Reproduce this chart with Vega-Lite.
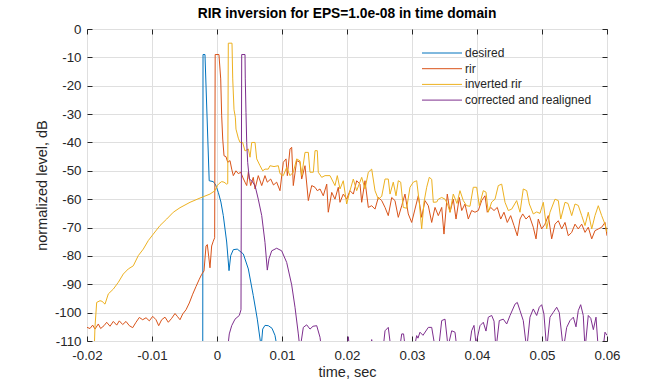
{
  "$schema": "https://vega.github.io/schema/vega-lite/v6.json",
  "width": 520,
  "height": 312,
  "autosize": {"type": "none"},
  "padding": {"left": 87, "top": 29, "right": 65, "bottom": 43},
  "background": "#ffffff",
  "title": {"text": "RIR inversion for EPS=1.0e-08 in time domain", "font": "Liberation Sans", "fontSize": 13.8, "fontWeight": "bold", "color": "#000000", "offset": 1},
  "datasets": {
    "desired": [
      {"s":"desired","t":-0.0022,"v":-130},{"s":"desired","t":-0.00215,"v":-9},{"s":"desired","t":-0.00185,"v":-9},{"s":"desired","t":-0.0012,"v":-53.5},{"s":"desired","t":-0.00057,"v":-53.8},{"s":"desired","t":-0.0002,"v":-55},{"s":"desired","t":0.0002,"v":-57.6},{"s":"desired","t":0.0006,"v":-61},{"s":"desired","t":0.00097,"v":-65.8},{"s":"desired","t":0.00149,"v":-75.1},{"s":"desired","t":0.00185,"v":-85.2},{"s":"desired","t":0.00211,"v":-79.9},{"s":"desired","t":0.00251,"v":-77.8},{"s":"desired","t":0.00312,"v":-77.6},{"s":"desired","t":0.00405,"v":-79.3},{"s":"desired","t":0.00482,"v":-84.6},{"s":"desired","t":0.00558,"v":-94},{"s":"desired","t":0.0062,"v":-102.3},{"s":"desired","t":0.00662,"v":-109.3},{"s":"desired","t":0.0068,"v":-112},{"s":"desired","t":0.00703,"v":-105.8},{"s":"desired","t":0.00738,"v":-104.5},{"s":"desired","t":0.00789,"v":-104.6},{"s":"desired","t":0.00846,"v":-105.5},{"s":"desired","t":0.00892,"v":-108},{"s":"desired","t":0.00923,"v":-112},{"s":"desired","t":0.0095,"v":-125}
    ],
    "rir": [
      {"s":"rir","t":-0.02,"v":-105.2},{"s":"rir","t":-0.01954,"v":-105.6},{"s":"rir","t":-0.01913,"v":-104.4},{"s":"rir","t":-0.01877,"v":-105.8},{"s":"rir","t":-0.01826,"v":-104},{"s":"rir","t":-0.0179,"v":-105.6},{"s":"rir","t":-0.01738,"v":-104.6},{"s":"rir","t":-0.01697,"v":-103.4},{"s":"rir","t":-0.01646,"v":-104.8},{"s":"rir","t":-0.01595,"v":-103.1},{"s":"rir","t":-0.01543,"v":-104.4},{"s":"rir","t":-0.01503,"v":-102.9},{"s":"rir","t":-0.01451,"v":-104.2},{"s":"rir","t":-0.014,"v":-103.1},{"s":"rir","t":-0.01349,"v":-104.6},{"s":"rir","t":-0.01297,"v":-105.3},{"s":"rir","t":-0.01246,"v":-103.4},{"s":"rir","t":-0.01195,"v":-101.7},{"s":"rir","t":-0.01143,"v":-102.5},{"s":"rir","t":-0.01092,"v":-101.8},{"s":"rir","t":-0.01041,"v":-102.9},{"s":"rir","t":-0.00989,"v":-101.3},{"s":"rir","t":-0.00938,"v":-102.5},{"s":"rir","t":-0.00897,"v":-104.6},{"s":"rir","t":-0.00851,"v":-102.5},{"s":"rir","t":-0.008,"v":-101.6},{"s":"rir","t":-0.00749,"v":-103.4},{"s":"rir","t":-0.00697,"v":-102},{"s":"rir","t":-0.00646,"v":-100.3},{"s":"rir","t":-0.00611,"v":-101.3},{"s":"rir","t":-0.00569,"v":-102.5},{"s":"rir","t":-0.00528,"v":-100.5},{"s":"rir","t":-0.00477,"v":-99},{"s":"rir","t":-0.00426,"v":-96.6},{"s":"rir","t":-0.00374,"v":-93.5},{"s":"rir","t":-0.00323,"v":-90.8},{"s":"rir","t":-0.00272,"v":-88.2},{"s":"rir","t":-0.00236,"v":-86.5},{"s":"rir","t":-0.002,"v":-85.3},{"s":"rir","t":-0.00169,"v":-76.5},{"s":"rir","t":-0.00149,"v":-76},{"s":"rir","t":-0.00128,"v":-80.1},{"s":"rir","t":-0.00108,"v":-84.2},{"s":"rir","t":-0.00082,"v":-76.5},{"s":"rir","t":-0.00057,"v":-74.8},{"s":"rir","t":-0.00036,"v":-73.6},{"s":"rir","t":-0.00028,"v":-9},{"s":"rir","t":0.0003,"v":-9},{"s":"rir","t":0.00057,"v":-17.6},{"s":"rir","t":0.00072,"v":-30.6},{"s":"rir","t":0.00088,"v":-38.8},{"s":"rir","t":0.00108,"v":-44.7},{"s":"rir","t":0.00138,"v":-45},{"s":"rir","t":0.00165,"v":-47},{"s":"rir","t":0.002,"v":-46.4},{"s":"rir","t":0.00226,"v":-49.4},{"s":"rir","t":0.00251,"v":-51.7},{"s":"rir","t":0.00292,"v":-50},{"s":"rir","t":0.00328,"v":-51},{"s":"rir","t":0.00365,"v":-50.5},{"s":"rir","t":0.004,"v":-52.5},{"s":"rir","t":0.00431,"v":-54},{"s":"rir","t":0.00457,"v":-55.2},{"s":"rir","t":0.00482,"v":-50.5},{"s":"rir","t":0.00518,"v":-55.2},{"s":"rir","t":0.00558,"v":-52.3},{"s":"rir","t":0.00585,"v":-56.4},{"s":"rir","t":0.00635,"v":-51.7},{"s":"rir","t":0.00688,"v":-55.2},{"s":"rir","t":0.00738,"v":-51.7},{"s":"rir","t":0.00774,"v":-54},{"s":"rir","t":0.00826,"v":-52.9},{"s":"rir","t":0.00869,"v":-55},{"s":"rir","t":0.00918,"v":-54},{"s":"rir","t":0.00969,"v":-57},{"s":"rir","t":0.0102,"v":-47},{"s":"rir","t":0.01062,"v":-45.8},{"s":"rir","t":0.01082,"v":-51.7},{"s":"rir","t":0.01123,"v":-42.3},{"s":"rir","t":0.01149,"v":-41.7},{"s":"rir","t":0.01174,"v":-55.2},{"s":"rir","t":0.01226,"v":-46.4},{"s":"rir","t":0.01277,"v":-47},{"s":"rir","t":0.01303,"v":-52.9},{"s":"rir","t":0.01354,"v":-48.2},{"s":"rir","t":0.01405,"v":-60.5},{"s":"rir","t":0.01457,"v":-55.2},{"s":"rir","t":0.01508,"v":-55.8},{"s":"rir","t":0.01543,"v":-57},{"s":"rir","t":0.01585,"v":-56.4},{"s":"rir","t":0.01635,"v":-58.8},{"s":"rir","t":0.01688,"v":-54.7},{"s":"rir","t":0.01712,"v":-64.6},{"s":"rir","t":0.01765,"v":-57.6},{"s":"rir","t":0.01815,"v":-60},{"s":"rir","t":0.01866,"v":-55.8},{"s":"rir","t":0.01892,"v":-61.1},{"s":"rir","t":0.01943,"v":-58.2},{"s":"rir","t":0.01995,"v":-60},{"s":"rir","t":0.02046,"v":-57},{"s":"rir","t":0.02097,"v":-58.2},{"s":"rir","t":0.02149,"v":-53.5},{"s":"rir","t":0.022,"v":-54.7},{"s":"rir","t":0.02226,"v":-61.1},{"s":"rir","t":0.02277,"v":-53.5},{"s":"rir","t":0.02328,"v":-62.9},{"s":"rir","t":0.0238,"v":-62.3},{"s":"rir","t":0.02431,"v":-63.5},{"s":"rir","t":0.02482,"v":-59.4},{"s":"rir","t":0.02534,"v":-60.5},{"s":"rir","t":0.02585,"v":-62.9},{"s":"rir","t":0.02635,"v":-65.8},{"s":"rir","t":0.02688,"v":-59.4},{"s":"rir","t":0.02738,"v":-60.5},{"s":"rir","t":0.02789,"v":-66.4},{"s":"rir","t":0.02842,"v":-62.3},{"s":"rir","t":0.02892,"v":-58.2},{"s":"rir","t":0.02943,"v":-65.2},{"s":"rir","t":0.02995,"v":-68.2},{"s":"rir","t":0.03046,"v":-63.5},{"s":"rir","t":0.03097,"v":-58.8},{"s":"rir","t":0.03149,"v":-66.4},{"s":"rir","t":0.032,"v":-60.5},{"s":"rir","t":0.03251,"v":-62.3},{"s":"rir","t":0.03303,"v":-68.2},{"s":"rir","t":0.03354,"v":-62.9},{"s":"rir","t":0.03405,"v":-65.8},{"s":"rir","t":0.03457,"v":-62.9},{"s":"rir","t":0.03492,"v":-72.3},{"s":"rir","t":0.03543,"v":-58.2},{"s":"rir","t":0.03585,"v":-64.6},{"s":"rir","t":0.03635,"v":-60},{"s":"rir","t":0.03677,"v":-67},{"s":"rir","t":0.03728,"v":-59.4},{"s":"rir","t":0.03765,"v":-64},{"s":"rir","t":0.03815,"v":-61.7},{"s":"rir","t":0.03866,"v":-67},{"s":"rir","t":0.03918,"v":-64},{"s":"rir","t":0.03969,"v":-64.6},{"s":"rir","t":0.0402,"v":-64},{"s":"rir","t":0.04072,"v":-60.5},{"s":"rir","t":0.04123,"v":-58.8},{"s":"rir","t":0.04158,"v":-64.6},{"s":"rir","t":0.04211,"v":-62.9},{"s":"rir","t":0.04262,"v":-64},{"s":"rir","t":0.04312,"v":-62.9},{"s":"rir","t":0.04365,"v":-67},{"s":"rir","t":0.04415,"v":-64.6},{"s":"rir","t":0.04466,"v":-68.2},{"s":"rir","t":0.04518,"v":-65.8},{"s":"rir","t":0.04569,"v":-69.3},{"s":"rir","t":0.0462,"v":-72.9},{"s":"rir","t":0.04662,"v":-67},{"s":"rir","t":0.04703,"v":-65.2},{"s":"rir","t":0.04754,"v":-67},{"s":"rir","t":0.04805,"v":-65.8},{"s":"rir","t":0.04866,"v":-69.9},{"s":"rir","t":0.04908,"v":-74},{"s":"rir","t":0.04943,"v":-67},{"s":"rir","t":0.04995,"v":-70.5},{"s":"rir","t":0.05046,"v":-68.8},{"s":"rir","t":0.05097,"v":-65.8},{"s":"rir","t":0.05149,"v":-74},{"s":"rir","t":0.052,"v":-68.8},{"s":"rir","t":0.05251,"v":-67.6},{"s":"rir","t":0.05303,"v":-70.5},{"s":"rir","t":0.05354,"v":-68.2},{"s":"rir","t":0.05405,"v":-72.9},{"s":"rir","t":0.05457,"v":-71.7},{"s":"rir","t":0.05508,"v":-68.8},{"s":"rir","t":0.05558,"v":-70.5},{"s":"rir","t":0.05611,"v":-68.8},{"s":"rir","t":0.05662,"v":-71.7},{"s":"rir","t":0.05712,"v":-69.9},{"s":"rir","t":0.05765,"v":-74},{"s":"rir","t":0.05815,"v":-71.1},{"s":"rir","t":0.05866,"v":-70.5},{"s":"rir","t":0.05918,"v":-69.9},{"s":"rir","t":0.05969,"v":-68.2},{"s":"rir","t":0.06,"v":-72.9}
    ],
    "inv": [
      {"s":"inverted rir","t":-0.01892,"v":-115},{"s":"inverted rir","t":-0.01877,"v":-105},{"s":"inverted rir","t":-0.01851,"v":-96.4},{"s":"inverted rir","t":-0.018,"v":-95.8},{"s":"inverted rir","t":-0.01769,"v":-96},{"s":"inverted rir","t":-0.01723,"v":-97},{"s":"inverted rir","t":-0.01672,"v":-93.4},{"s":"inverted rir","t":-0.01595,"v":-91.7},{"s":"inverted rir","t":-0.01518,"v":-89.3},{"s":"inverted rir","t":-0.01442,"v":-86.4},{"s":"inverted rir","t":-0.01365,"v":-84.6},{"s":"inverted rir","t":-0.01288,"v":-83.5},{"s":"inverted rir","t":-0.01211,"v":-79.9},{"s":"inverted rir","t":-0.01134,"v":-77.6},{"s":"inverted rir","t":-0.01057,"v":-74.6},{"s":"inverted rir","t":-0.0098,"v":-72.3},{"s":"inverted rir","t":-0.00877,"v":-69.3},{"s":"inverted rir","t":-0.00774,"v":-67},{"s":"inverted rir","t":-0.00672,"v":-64.6},{"s":"inverted rir","t":-0.00569,"v":-63},{"s":"inverted rir","t":-0.00415,"v":-61.1},{"s":"inverted rir","t":-0.00262,"v":-59.6},{"s":"inverted rir","t":-0.00108,"v":-58.2},{"s":"inverted rir","t":-0.00031,"v":-57},{"s":"inverted rir","t":0.00005,"v":-55.2},{"s":"inverted rir","t":0.00031,"v":-54.5},{"s":"inverted rir","t":0.00072,"v":-53.8},{"s":"inverted rir","t":0.00108,"v":-54},{"s":"inverted rir","t":0.00149,"v":-54.7},{"s":"inverted rir","t":0.00165,"v":-54.5},{"s":"inverted rir","t":0.00174,"v":-5},{"s":"inverted rir","t":0.00231,"v":-5},{"s":"inverted rir","t":0.00242,"v":-17.6},{"s":"inverted rir","t":0.00262,"v":-28.5},{"s":"inverted rir","t":0.00282,"v":-31.1},{"s":"inverted rir","t":0.00292,"v":-35.3},{"s":"inverted rir","t":0.00328,"v":-38.5},{"s":"inverted rir","t":0.00354,"v":-40},{"s":"inverted rir","t":0.00395,"v":-40},{"s":"inverted rir","t":0.00431,"v":-43},{"s":"inverted rir","t":0.00482,"v":-42.3},{"s":"inverted rir","t":0.00508,"v":-45.2},{"s":"inverted rir","t":0.00534,"v":-40},{"s":"inverted rir","t":0.00585,"v":-40},{"s":"inverted rir","t":0.00611,"v":-45.8},{"s":"inverted rir","t":0.00662,"v":-48.2},{"s":"inverted rir","t":0.00703,"v":-50},{"s":"inverted rir","t":0.00738,"v":-49.4},{"s":"inverted rir","t":0.00789,"v":-49.4},{"s":"inverted rir","t":0.00815,"v":-48.2},{"s":"inverted rir","t":0.00877,"v":-48.5},{"s":"inverted rir","t":0.00943,"v":-48.2},{"s":"inverted rir","t":0.00969,"v":-51},{"s":"inverted rir","t":0.0102,"v":-51.7},{"s":"inverted rir","t":0.01072,"v":-48.8},{"s":"inverted rir","t":0.01123,"v":-51.7},{"s":"inverted rir","t":0.01174,"v":-50.5},{"s":"inverted rir","t":0.01226,"v":-45.8},{"s":"inverted rir","t":0.01277,"v":-46.5},{"s":"inverted rir","t":0.01303,"v":-51.7},{"s":"inverted rir","t":0.01354,"v":-43.5},{"s":"inverted rir","t":0.01405,"v":-43.5},{"s":"inverted rir","t":0.01431,"v":-50.5},{"s":"inverted rir","t":0.01482,"v":-50.5},{"s":"inverted rir","t":0.01508,"v":-42.9},{"s":"inverted rir","t":0.01543,"v":-42.9},{"s":"inverted rir","t":0.01558,"v":-50.5},{"s":"inverted rir","t":0.01611,"v":-52.3},{"s":"inverted rir","t":0.01662,"v":-51.7},{"s":"inverted rir","t":0.01738,"v":-51.7},{"s":"inverted rir","t":0.01815,"v":-55.2},{"s":"inverted rir","t":0.01851,"v":-51.7},{"s":"inverted rir","t":0.01892,"v":-56.4},{"s":"inverted rir","t":0.01943,"v":-53.5},{"s":"inverted rir","t":0.01995,"v":-61.7},{"s":"inverted rir","t":0.02046,"v":-57},{"s":"inverted rir","t":0.02097,"v":-52.9},{"s":"inverted rir","t":0.02149,"v":-57},{"s":"inverted rir","t":0.02226,"v":-52.3},{"s":"inverted rir","t":0.02277,"v":-56.4},{"s":"inverted rir","t":0.02328,"v":-50.5},{"s":"inverted rir","t":0.0238,"v":-49.4},{"s":"inverted rir","t":0.02431,"v":-57},{"s":"inverted rir","t":0.02482,"v":-60},{"s":"inverted rir","t":0.02534,"v":-59},{"s":"inverted rir","t":0.02585,"v":-52.9},{"s":"inverted rir","t":0.02635,"v":-52.9},{"s":"inverted rir","t":0.02662,"v":-58.2},{"s":"inverted rir","t":0.02712,"v":-54},{"s":"inverted rir","t":0.02754,"v":-58.8},{"s":"inverted rir","t":0.02789,"v":-53.5},{"s":"inverted rir","t":0.02826,"v":-54},{"s":"inverted rir","t":0.02866,"v":-62.9},{"s":"inverted rir","t":0.02918,"v":-63.2},{"s":"inverted rir","t":0.02969,"v":-55.8},{"s":"inverted rir","t":0.0302,"v":-54},{"s":"inverted rir","t":0.03072,"v":-53.5},{"s":"inverted rir","t":0.03112,"v":-61.1},{"s":"inverted rir","t":0.03149,"v":-70.5},{"s":"inverted rir","t":0.03185,"v":-61},{"s":"inverted rir","t":0.03226,"v":-55.8},{"s":"inverted rir","t":0.03266,"v":-52.3},{"s":"inverted rir","t":0.03303,"v":-53},{"s":"inverted rir","t":0.03328,"v":-61.1},{"s":"inverted rir","t":0.0338,"v":-61},{"s":"inverted rir","t":0.03405,"v":-60},{"s":"inverted rir","t":0.03457,"v":-59.4},{"s":"inverted rir","t":0.03508,"v":-60},{"s":"inverted rir","t":0.03543,"v":-61.5},{"s":"inverted rir","t":0.03585,"v":-64.6},{"s":"inverted rir","t":0.03635,"v":-58.2},{"s":"inverted rir","t":0.03692,"v":-61.5},{"s":"inverted rir","t":0.03738,"v":-57},{"s":"inverted rir","t":0.03789,"v":-60.5},{"s":"inverted rir","t":0.0384,"v":-62.3},{"s":"inverted rir","t":0.03892,"v":-62.5},{"s":"inverted rir","t":0.03943,"v":-55.8},{"s":"inverted rir","t":0.03995,"v":-55.8},{"s":"inverted rir","t":0.04035,"v":-62.3},{"s":"inverted rir","t":0.04097,"v":-57},{"s":"inverted rir","t":0.04138,"v":-57.5},{"s":"inverted rir","t":0.04174,"v":-64.6},{"s":"inverted rir","t":0.04226,"v":-61},{"s":"inverted rir","t":0.04277,"v":-60},{"s":"inverted rir","t":0.04328,"v":-55.2},{"s":"inverted rir","t":0.0438,"v":-54.7},{"s":"inverted rir","t":0.04431,"v":-61.1},{"s":"inverted rir","t":0.04482,"v":-64},{"s":"inverted rir","t":0.04534,"v":-63.5},{"s":"inverted rir","t":0.0461,"v":-60.5},{"s":"inverted rir","t":0.04662,"v":-64.6},{"s":"inverted rir","t":0.04712,"v":-56.4},{"s":"inverted rir","t":0.04765,"v":-57},{"s":"inverted rir","t":0.04805,"v":-61.7},{"s":"inverted rir","t":0.04866,"v":-65.2},{"s":"inverted rir","t":0.04918,"v":-64.5},{"s":"inverted rir","t":0.04969,"v":-65},{"s":"inverted rir","t":0.0502,"v":-61.1},{"s":"inverted rir","t":0.05072,"v":-70.5},{"s":"inverted rir","t":0.05123,"v":-64.6},{"s":"inverted rir","t":0.052,"v":-60},{"s":"inverted rir","t":0.05251,"v":-60.5},{"s":"inverted rir","t":0.05288,"v":-67},{"s":"inverted rir","t":0.05354,"v":-61.1},{"s":"inverted rir","t":0.054,"v":-61.5},{"s":"inverted rir","t":0.05457,"v":-65.8},{"s":"inverted rir","t":0.05508,"v":-61.7},{"s":"inverted rir","t":0.05558,"v":-62.2},{"s":"inverted rir","t":0.05611,"v":-65.8},{"s":"inverted rir","t":0.05662,"v":-69.3},{"s":"inverted rir","t":0.05712,"v":-64.6},{"s":"inverted rir","t":0.05765,"v":-70.5},{"s":"inverted rir","t":0.05815,"v":-65.8},{"s":"inverted rir","t":0.05866,"v":-62.3},{"s":"inverted rir","t":0.05918,"v":-65.8},{"s":"inverted rir","t":0.05969,"v":-68.8},{"s":"inverted rir","t":0.06,"v":-71.7}
    ],
    "corr": [
      {"s":"corrected and realigned","t":0.00162,"v":-113},{"s":"corrected and realigned","t":0.00189,"v":-107.5},{"s":"corrected and realigned","t":0.00226,"v":-104.6},{"s":"corrected and realigned","t":0.00277,"v":-102.3},{"s":"corrected and realigned","t":0.00343,"v":-101},{"s":"corrected and realigned","t":0.00369,"v":-99},{"s":"corrected and realigned","t":0.0038,"v":-9},{"s":"corrected and realigned","t":0.00431,"v":-9},{"s":"corrected and realigned","t":0.00435,"v":-17.6},{"s":"corrected and realigned","t":0.00446,"v":-29.4},{"s":"corrected and realigned","t":0.00457,"v":-40},{"s":"corrected and realigned","t":0.00472,"v":-47},{"s":"corrected and realigned","t":0.00497,"v":-52.9},{"s":"corrected and realigned","t":0.00534,"v":-53.5},{"s":"corrected and realigned","t":0.00585,"v":-55.2},{"s":"corrected and realigned","t":0.00635,"v":-60},{"s":"corrected and realigned","t":0.00688,"v":-65.8},{"s":"corrected and realigned","t":0.00738,"v":-75.2},{"s":"corrected and realigned","t":0.00774,"v":-85},{"s":"corrected and realigned","t":0.008,"v":-81},{"s":"corrected and realigned","t":0.00842,"v":-78.2},{"s":"corrected and realigned","t":0.00918,"v":-77.3},{"s":"corrected and realigned","t":0.00995,"v":-78.2},{"s":"corrected and realigned","t":0.01072,"v":-82.3},{"s":"corrected and realigned","t":0.01149,"v":-90.2},{"s":"corrected and realigned","t":0.012,"v":-98.1},{"s":"corrected and realigned","t":0.01251,"v":-107.5},{"s":"corrected and realigned","t":0.01277,"v":-113},{"s":"corrected and realigned","t":0.01328,"v":-105.2},{"s":"corrected and realigned","t":0.0138,"v":-104.3},{"s":"corrected and realigned","t":0.01431,"v":-105.8},{"s":"corrected and realigned","t":0.01477,"v":-104.8},{"s":"corrected and realigned","t":0.01534,"v":-104.6},{"s":"corrected and realigned","t":0.01585,"v":-108.7},{"s":"corrected and realigned","t":0.01608,"v":-113},{"s":"corrected and realigned","t":0.02,"v":-113},{"s":"corrected and realigned","t":0.0202,"v":-108.5},{"s":"corrected and realigned","t":0.0204,"v":-113},{"s":"corrected and realigned","t":0.0236,"v":-113},{"s":"corrected and realigned","t":0.0238,"v":-109.5},{"s":"corrected and realigned","t":0.024,"v":-113},{"s":"corrected and realigned","t":0.02554,"v":-113},{"s":"corrected and realigned","t":0.02585,"v":-106.4},{"s":"corrected and realigned","t":0.02635,"v":-105.2},{"s":"corrected and realigned","t":0.02677,"v":-113},{"s":"corrected and realigned","t":0.02808,"v":-113},{"s":"corrected and realigned","t":0.02842,"v":-107.5},{"s":"corrected and realigned","t":0.0287,"v":-107.5},{"s":"corrected and realigned","t":0.029,"v":-113},{"s":"corrected and realigned","t":0.0303,"v":-113},{"s":"corrected and realigned","t":0.03072,"v":-108.1},{"s":"corrected and realigned","t":0.03092,"v":-109},{"s":"corrected and realigned","t":0.03123,"v":-106.9},{"s":"corrected and realigned","t":0.03169,"v":-108},{"s":"corrected and realigned","t":0.03251,"v":-105.2},{"s":"corrected and realigned","t":0.03303,"v":-105.2},{"s":"corrected and realigned","t":0.0336,"v":-113},{"s":"corrected and realigned","t":0.03408,"v":-113},{"s":"corrected and realigned","t":0.03457,"v":-102.8},{"s":"corrected and realigned","t":0.03508,"v":-102.3},{"s":"corrected and realigned","t":0.03554,"v":-112},{"s":"corrected and realigned","t":0.03611,"v":-106.4},{"s":"corrected and realigned","t":0.03662,"v":-106.9},{"s":"corrected and realigned","t":0.03692,"v":-113},{"s":"corrected and realigned","t":0.03877,"v":-113},{"s":"corrected and realigned","t":0.03918,"v":-106.4},{"s":"corrected and realigned","t":0.03954,"v":-104.5},{"s":"corrected and realigned","t":0.03985,"v":-111},{"s":"corrected and realigned","t":0.04046,"v":-104.6},{"s":"corrected and realigned","t":0.04097,"v":-103.4},{"s":"corrected and realigned","t":0.04138,"v":-106.5},{"s":"corrected and realigned","t":0.04174,"v":-101.6},{"s":"corrected and realigned","t":0.04226,"v":-101},{"s":"corrected and realigned","t":0.04262,"v":-103},{"s":"corrected and realigned","t":0.04292,"v":-113},{"s":"corrected and realigned","t":0.04343,"v":-102.8},{"s":"corrected and realigned","t":0.04405,"v":-102.3},{"s":"corrected and realigned","t":0.04457,"v":-104},{"s":"corrected and realigned","t":0.04508,"v":-101},{"s":"corrected and realigned","t":0.04585,"v":-97},{"s":"corrected and realigned","t":0.0462,"v":-96.4},{"s":"corrected and realigned","t":0.04662,"v":-99.3},{"s":"corrected and realigned","t":0.04712,"v":-102.8},{"s":"corrected and realigned","t":0.04765,"v":-113},{"s":"corrected and realigned","t":0.04815,"v":-101.6},{"s":"corrected and realigned","t":0.04866,"v":-98.7},{"s":"corrected and realigned","t":0.04918,"v":-101},{"s":"corrected and realigned","t":0.04958,"v":-98.1},{"s":"corrected and realigned","t":0.04995,"v":-97.2},{"s":"corrected and realigned","t":0.0503,"v":-100.5},{"s":"corrected and realigned","t":0.05072,"v":-113},{"s":"corrected and realigned","t":0.05123,"v":-101.6},{"s":"corrected and realigned","t":0.05174,"v":-99.9},{"s":"corrected and realigned","t":0.05226,"v":-98.1},{"s":"corrected and realigned","t":0.05266,"v":-100},{"s":"corrected and realigned","t":0.05328,"v":-113},{"s":"corrected and realigned","t":0.0538,"v":-105.2},{"s":"corrected and realigned","t":0.05431,"v":-102.8},{"s":"corrected and realigned","t":0.05482,"v":-101.6},{"s":"corrected and realigned","t":0.05523,"v":-105},{"s":"corrected and realigned","t":0.05558,"v":-99.3},{"s":"corrected and realigned","t":0.05595,"v":-97.2},{"s":"corrected and realigned","t":0.05635,"v":-101},{"s":"corrected and realigned","t":0.05662,"v":-113},{"s":"corrected and realigned","t":0.05712,"v":-101},{"s":"corrected and realigned","t":0.0575,"v":-102},{"s":"corrected and realigned","t":0.0579,"v":-106},{"s":"corrected and realigned","t":0.05831,"v":-101.6},{"s":"corrected and realigned","t":0.05866,"v":-113},{"s":"corrected and realigned","t":0.05938,"v":-113},{"s":"corrected and realigned","t":0.05969,"v":-106.9},{"s":"corrected and realigned","t":0.06,"v":-108}
    ]
  },
  "layer": [
    {
      "data": {"name": "desired"},
      "mark": {"type": "line", "clip": true, "strokeWidth": 1},
      "encoding": {
        "x": {"field": "t", "type": "quantitative", "scale": {"domain": [-0.02, 0.06], "nice": false, "zero": false},
          "axis": {"values": [-0.02, -0.01, 0, 0.01, 0.02, 0.03, 0.04, 0.05, 0.06], "format": ".2~f", "ticks": false, "domain": false, "grid": true, "gridColor": "#dfdfdf", "labelPadding": 7, "labelFont": "Liberation Sans", "labelFontSize": 13.3, "labelColor": "#262626", "labelFlush": false, "labelOverlap": false, "title": "time, sec", "titleFont": "Liberation Sans", "titleFontSize": 14.5, "titleFontWeight": "normal", "titleColor": "#262626", "titlePadding": 4}},
        "y": {"field": "v", "type": "quantitative", "scale": {"domain": [-110, 0], "nice": false, "zero": false},
          "axis": {"values": [-110, -100, -90, -80, -70, -60, -50, -40, -30, -20, -10, 0], "format": "d", "ticks": false, "domain": false, "grid": true, "gridColor": "#dfdfdf", "labelPadding": 6, "labelFont": "Liberation Sans", "labelFontSize": 13.3, "labelColor": "#262626", "labelFlush": false, "labelOverlap": false, "title": "normalized level, dB", "titleFont": "Liberation Sans", "titleFontSize": 14.5, "titleFontWeight": "normal", "titleColor": "#262626", "titlePadding": 5}},
        "stroke": {"field": "s", "type": "nominal", "scale": {"domain": ["desired", "rir", "inverted rir", "corrected and realigned"], "range": ["#0072BD", "#D95319", "#EDB120", "#7E2F8E"]},
          "legend": {"title": null, "orient": "none", "legendX": 349, "legendY": 18, "direction": "vertical", "symbolType": "M-4,0H4", "symbolSize": 100, "symbolStrokeWidth": 1, "symbolFillColor": "transparent", "labelOffset": 17, "labelFont": "Liberation Sans", "labelFontSize": 12, "labelColor": "#262626", "padding": 0, "rowPadding": 3.7}}
      }
    },
    {
      "data": {"name": "rir"},
      "mark": {"type": "line", "clip": true, "strokeWidth": 1},
      "encoding": {
        "x": {"field": "t", "type": "quantitative", "axis": {"orient": "top", "values": [-0.02, -0.01, 0, 0.01, 0.02, 0.03, 0.04, 0.05, 0.06], "labels": false, "domain": false, "grid": false, "ticks": true, "tickSize": -5, "tickColor": "#262626", "title": null}},
        "y": {"field": "v", "type": "quantitative", "axis": {"orient": "right", "values": [-110, -100, -90, -80, -70, -60, -50, -40, -30, -20, -10, 0], "labels": false, "domain": false, "grid": false, "ticks": true, "tickSize": -5, "tickColor": "#262626", "title": null}},
        "stroke": {"field": "s", "type": "nominal"}
      }
    },
    {
      "data": {"name": "inv"},
      "mark": {"type": "line", "clip": true, "strokeWidth": 1},
      "encoding": {
        "x": {"field": "t", "type": "quantitative", "axis": {"orient": "bottom", "values": [-0.02, -0.01, 0, 0.01, 0.02, 0.03, 0.04, 0.05, 0.06], "labels": false, "domain": false, "grid": false, "ticks": true, "tickSize": -5, "tickColor": "#262626", "title": null}},
        "y": {"field": "v", "type": "quantitative", "axis": {"orient": "left", "values": [-110, -100, -90, -80, -70, -60, -50, -40, -30, -20, -10, 0], "labels": false, "domain": false, "grid": false, "ticks": true, "tickSize": -5, "tickColor": "#262626", "title": null}},
        "stroke": {"field": "s", "type": "nominal"}
      }
    },
    {
      "data": {"name": "corr"},
      "mark": {"type": "line", "clip": true, "strokeWidth": 1},
      "encoding": {
        "x": {"field": "t", "type": "quantitative", "axis": null},
        "y": {"field": "v", "type": "quantitative", "axis": null},
        "stroke": {"field": "s", "type": "nominal"}
      }
    }
  ],
  "resolve": {"axis": {"x": "independent", "y": "independent"}},
  "config": {
    "view": {"stroke": "#262626", "strokeWidth": 1},
    "locale": {"number": {"decimal": ".", "thousands": ",", "grouping": [3], "currency": ["$", ""], "minus": "-"}}
  }
}
